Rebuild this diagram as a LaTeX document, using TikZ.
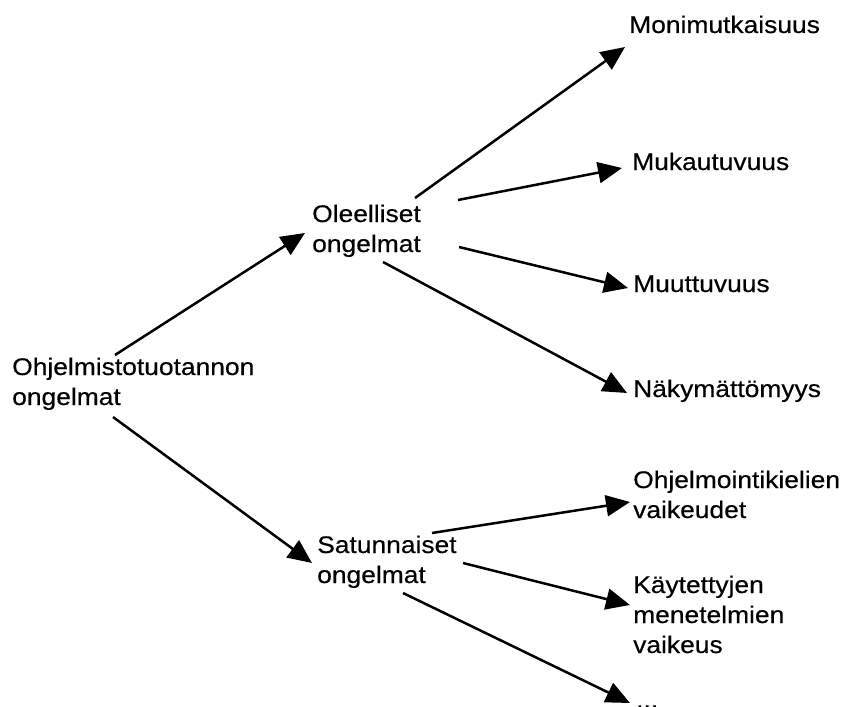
\documentclass[tikz,border=0pt]{standalone}
\usepackage{fontspec}
\setmainfont{Liberation Sans}[FakeStretch=1.1,FakeBold=0.4]
\usetikzlibrary{arrows.meta}
\begin{document}
\begin{tikzpicture}[x=1pt,y=-1pt,
  label/.style={anchor=base west,inner sep=0pt,align=left,
    font=\fontsize{24}{30}\selectfont},
  arr/.style={line width=2.5pt,-{Triangle[length=24pt,width=21pt]}}]
\useasboundingbox (0,0) rectangle (845,706);

% tree nodes (base anchor = baseline of the last line)
\node[label] (root) at (12,405)  {Ohjelmistotuotannon\\ongelmat};
\node[label] (ole)  at (312,252) {Oleelliset\\ongelmat};
\node[label] (sat)  at (317,583) {Satunnaiset\\ongelmat};
\node[label] (mon)  at (629,33)  {Monimutkaisuus};
\node[label] (muk)  at (632,170) {Mukautuvuus};
\node[label] (muu)  at (633,292) {Muuttuvuus};
\node[label] (nak)  at (633,397) {Näkymättömyys};
\node[label] (ohj)  at (633,518) {Ohjelmointikielien\\vaikeudet};
\node[label] (kay)  at (633,653) {Käytettyjen\\menetelmien\\vaikeus};
\node[label] (dots) at (636,708) {...};

% connectors
\draw[arr] ([shift={(103,-50)}]root.base west) -- ([shift={(-7,-19)}]ole.base west);
\draw[arr] ([shift={(101,12)}]root.base west)  -- ([shift={(-5,-20)}]sat.base west);

\draw[arr] ([shift={(103,-54)}]ole.base west) -- ([shift={(-4,14)}]mon.base west);
\draw[arr] ([shift={(146,-52)}]ole.base west) -- ([shift={(-10,-2)}]muk.base west);
\draw[arr] ([shift={(147,-5)}]ole.base west)  -- ([shift={(-5,-4)}]muu.base west);
\draw[arr] ([shift={(71,10)}]ole.base west)   -- ([shift={(-6,-4)}]nak.base west);

\draw[arr] ([shift={(115,-50)}]sat.base west) -- ([shift={(-3,-16)}]ohj.base west);
\draw[arr] ([shift={(146,-20)}]sat.base west) -- ([shift={(-3,-48)}]kay.base west);
\draw[arr] ([shift={(86,10)}]sat.base west)   -- ([shift={(-6,-5)}]dots.base west);
\end{tikzpicture}
\end{document}
